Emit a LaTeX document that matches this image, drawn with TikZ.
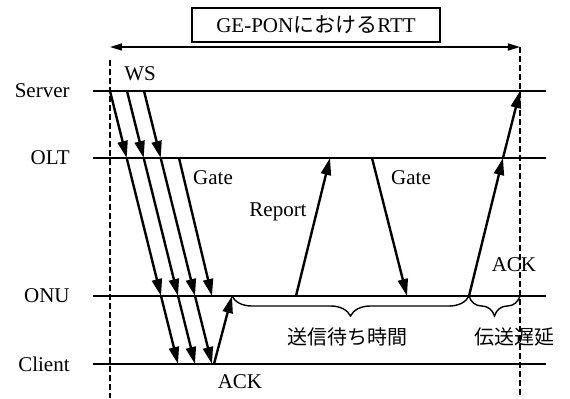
\documentclass[tikz,border=0pt]{standalone}
\usepackage{fontspec}
\setmainfont{Liberation Serif}
\newfontfamily\jfont{Noto Sans CJK JP}
\usetikzlibrary{arrows.meta,decorations.pathreplacing}
\tikzset{
  lane/.style     = {anchor=east, inner sep=0pt},
  lifeline/.style = {line width=0.7pt},
  guide/.style    = {line width=0.7pt, dash pattern=on 3pt off 1.5pt},
  msg/.style      = {line width=1.2pt, -{Triangle[length=8.5pt,width=5pt]}},
  rtt/.style      = {line width=0.8pt, {Triangle[length=6pt,width=3.5pt]}-{Triangle[length=6pt,width=3.5pt]}},
  tag/.style      = {inner sep=1pt},
  titlebox/.style = {draw, line width=0.6pt, minimum width=124pt, minimum height=17pt, inner sep=2pt},
  span/.style     = {decorate, decoration={brace, mirror, amplitude=10pt}, line width=0.7pt}
}

\begin{document}
\begin{tikzpicture}[x=0.5pt, y=-0.5pt, font=\fontsize{10.5pt}{12pt}\selectfont]
	\useasboundingbox (0,0) rectangle (570,398);
	\node[titlebox] (title) at (316,25) {GE-PON{\jfont における}RTT};
	\foreach \nm/\yy/\txt in {server/91/Server, olt/158/OLT, onu/296/ONU, client/364/Client}{
		\node[lane] (\nm) at (70,\yy) {\txt};
		\coordinate (\nm-l) at (93,\yy);
		\coordinate (\nm-r) at (546,\yy);
		\draw[lifeline] (\nm-l) -- (\nm-r);
	}
	\coordinate (rtt-l) at (110,47);
	\coordinate (rtt-r) at (520,47);
	\coordinate (guide-l) at (110,60);
	\coordinate (guide-lb) at (110,398);
	\coordinate (guide-rb) at (520,398);
	\draw[guide] (guide-l) -- (guide-lb);
	\draw[guide] (rtt-r) -- (guide-rb);
	\draw[rtt] (rtt-l) -- (rtt-r);
	\node[tag] (ws) at (140,74) {WS};
	\foreach \i in {0,1,2}{
		\coordinate (ws\i-s) at ({110+17*\i},91);
		\coordinate (ws\i-o) at ({126.7+17*\i},158);
		\coordinate (ws\i-n) at ({161+17*\i},296);
		\coordinate (ws\i-c) at ({178+17*\i},364);
		\draw[msg] (ws\i-s) -- (ws\i-o);
		\draw[msg] (ws\i-o) -- (ws\i-n);
		\draw[msg] (ws\i-n) -- (ws\i-c);
	}
	\coordinate (gate1-o) at (179,158);
	\coordinate (gate1-n) at (212,296);
	\coordinate (ack1-c) at (214,364);
	\coordinate (ack1-n) at (232,296);
	\coordinate (rep-n) at (296,296);
	\coordinate (rep-o) at (330,158);
	\coordinate (gate2-o) at (372,158);
	\coordinate (gate2-n) at (407,296);
	\coordinate (ack2-n) at (469,296);
	\coordinate (ack2-o) at (503,158);
	\coordinate (ack2-s) at (520,91);
	\draw[msg] (gate1-o) -- (gate1-n);
	\draw[msg] (ack1-c) -- (ack1-n);
	\draw[msg] (rep-n) -- (rep-o);
	\draw[msg] (gate2-o) -- (gate2-n);
	\draw[msg] (ack2-n) -- (ack2-o);
	\draw[msg] (ack2-o) -- (ack2-s);
	\node[tag] (gate1) at (213,178) {Gate};
	\node[tag] (gate2) at (411,178) {Gate};
	\node[tag] (rep) at (278,212) {Report};
	\node[tag] (ack1) at (240,382) {ACK};
	\node[tag] (ack2) at (514,265) {ACK};
	\coordinate (wait-r) at (ack2-n);
	\coordinate (delay-r) at (520,296);
	\draw[span] (ack1-n) -- (wait-r);
	\draw[span] (ack2-n) -- (delay-r);
	\node[tag, font=\jfont] (wait) at (348,337) {送信待ち時間};
	\node[tag, font=\jfont] (delay) at (515,337) {伝送遅延};
\end{tikzpicture}
\end{document}
